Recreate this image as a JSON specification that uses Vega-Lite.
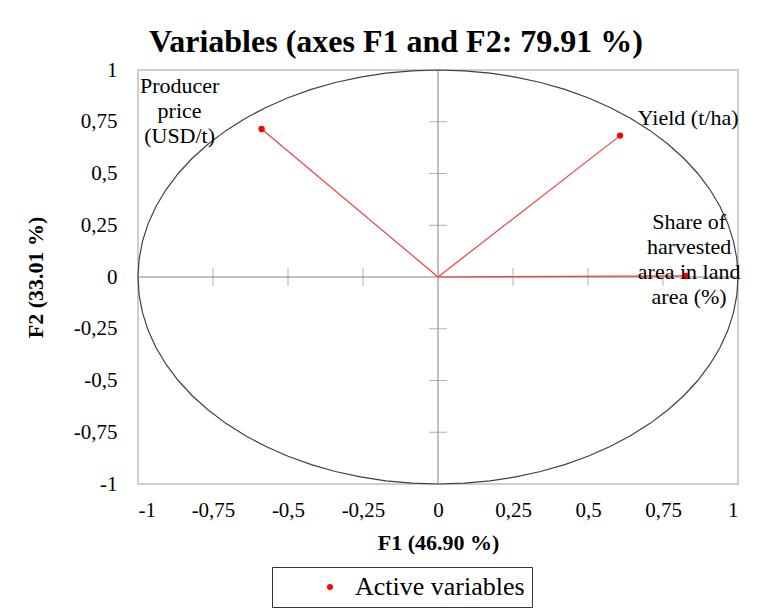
{
  "$schema": "https://vega.github.io/schema/vega-lite/v6.json",
  "width": 600,
  "height": 414,
  "autosize": {"type": "none"},
  "padding": {"left": 138, "top": 70, "right": 26, "bottom": 129},
  "background": "white",
  "title": {"text": "Variables (axes F1 and F2: 79.91 %)", "font": "Liberation Serif, Times New Roman, serif", "fontSize": 32, "fontWeight": "bold", "color": "black", "anchor": "middle", "dx": -42, "offset": 0},
  "config": {
    "view": {"stroke": "#bfbfbf", "strokeWidth": 1.5},
    "axis": {"grid": false, "domain": false, "ticks": false, "labelFont": "Liberation Serif, Times New Roman, serif", "labelFontSize": 21, "labelColor": "black", "titleFont": "Liberation Serif, Times New Roman, serif", "titleFontSize": 22, "titleFontWeight": "bold", "titleColor": "black"}
  },
  "datasets": {
    "circle": [
      {"a":0,"x":1,"y":0},{"a":5,"x":0.9962,"y":0.0872},{"a":10,"x":0.9848,"y":0.1736},{"a":15,"x":0.9659,"y":0.2588},{"a":20,"x":0.9397,"y":0.342},{"a":25,"x":0.9063,"y":0.4226},{"a":30,"x":0.866,"y":0.5},{"a":35,"x":0.8192,"y":0.5736},{"a":40,"x":0.766,"y":0.6428},{"a":45,"x":0.7071,"y":0.7071},{"a":50,"x":0.6428,"y":0.766},{"a":55,"x":0.5736,"y":0.8192},{"a":60,"x":0.5,"y":0.866},{"a":65,"x":0.4226,"y":0.9063},{"a":70,"x":0.342,"y":0.9397},{"a":75,"x":0.2588,"y":0.9659},{"a":80,"x":0.1736,"y":0.9848},{"a":85,"x":0.0872,"y":0.9962},{"a":90,"x":0,"y":1},
      {"a":95,"x":-0.0872,"y":0.9962},{"a":100,"x":-0.1736,"y":0.9848},{"a":105,"x":-0.2588,"y":0.9659},{"a":110,"x":-0.342,"y":0.9397},{"a":115,"x":-0.4226,"y":0.9063},{"a":120,"x":-0.5,"y":0.866},{"a":125,"x":-0.5736,"y":0.8192},{"a":130,"x":-0.6428,"y":0.766},{"a":135,"x":-0.7071,"y":0.7071},{"a":140,"x":-0.766,"y":0.6428},{"a":145,"x":-0.8192,"y":0.5736},{"a":150,"x":-0.866,"y":0.5},{"a":155,"x":-0.9063,"y":0.4226},{"a":160,"x":-0.9397,"y":0.342},{"a":165,"x":-0.9659,"y":0.2588},{"a":170,"x":-0.9848,"y":0.1736},{"a":175,"x":-0.9962,"y":0.0872},{"a":180,"x":-1,"y":0},
      {"a":185,"x":-0.9962,"y":-0.0872},{"a":190,"x":-0.9848,"y":-0.1736},{"a":195,"x":-0.9659,"y":-0.2588},{"a":200,"x":-0.9397,"y":-0.342},{"a":205,"x":-0.9063,"y":-0.4226},{"a":210,"x":-0.866,"y":-0.5},{"a":215,"x":-0.8192,"y":-0.5736},{"a":220,"x":-0.766,"y":-0.6428},{"a":225,"x":-0.7071,"y":-0.7071},{"a":230,"x":-0.6428,"y":-0.766},{"a":235,"x":-0.5736,"y":-0.8192},{"a":240,"x":-0.5,"y":-0.866},{"a":245,"x":-0.4226,"y":-0.9063},{"a":250,"x":-0.342,"y":-0.9397},{"a":255,"x":-0.2588,"y":-0.9659},{"a":260,"x":-0.1736,"y":-0.9848},{"a":265,"x":-0.0872,"y":-0.9962},{"a":270,"x":0,"y":-1},
      {"a":275,"x":0.0872,"y":-0.9962},{"a":280,"x":0.1736,"y":-0.9848},{"a":285,"x":0.2588,"y":-0.9659},{"a":290,"x":0.342,"y":-0.9397},{"a":295,"x":0.4226,"y":-0.9063},{"a":300,"x":0.5,"y":-0.866},{"a":305,"x":0.5736,"y":-0.8192},{"a":310,"x":0.6428,"y":-0.766},{"a":315,"x":0.7071,"y":-0.7071},{"a":320,"x":0.766,"y":-0.6428},{"a":325,"x":0.8192,"y":-0.5736},{"a":330,"x":0.866,"y":-0.5},{"a":335,"x":0.9063,"y":-0.4226},{"a":340,"x":0.9397,"y":-0.342},{"a":345,"x":0.9659,"y":-0.2588},{"a":350,"x":0.9848,"y":-0.1736},{"a":355,"x":0.9962,"y":-0.0872},{"a":360,"x":1,"y":0}
    ],
    "ticks": [{"v":-0.75},{"v":-0.5},{"v":-0.25},{"v":0.25},{"v":0.5},{"v":0.75}],
    "vars": [
      {"id":"price","label":"Producer\nprice\n(USD/t)","series":"Active variables","x":-0.588,"y":0.715},
      {"id":"yield","label":"Yield (t/ha)","series":"Active variables","x":0.607,"y":0.683},
      {"id":"share","label":"Share of\nharvested\narea in land\narea (%)","series":"Active variables","x":0.827,"y":0.005}
    ]
  },
  "layer": [
    {
      "data": {"name": "circle"},
      "mark": {"type": "line", "color": "#404040", "strokeWidth": 1.2},
      "encoding": {
        "x": {"field": "x", "type": "quantitative", "title": "F1 (46.90 %)",
              "scale": {"domain": [-1, 1], "nice": false, "zero": false},
              "axis": {"values": [-1,-0.75,-0.5,-0.25,0,0.25,0.5,0.75,1], "labelExpr": "replace(toString(datum.value), '.', ',')", "labelPadding": 15, "titlePadding": 12}},
        "y": {"field": "y", "type": "quantitative", "title": "F2 (33.01 %)",
              "scale": {"domain": [-1, 1], "nice": false, "zero": false},
              "axis": {"values": [-1,-0.75,-0.5,-0.25,0,0.25,0.5,0.75,1], "labelExpr": "replace(toString(datum.value), '.', ',')", "labelPadding": 21, "titlePadding": 26}},
        "order": {"field": "a", "type": "quantitative"}
      }
    },
    {
      "data": {"values": [{}]},
      "mark": {"type": "rule", "color": "#808080", "strokeWidth": 1},
      "encoding": {"y": {"datum": 0, "type": "quantitative"}}
    },
    {
      "data": {"values": [{}]},
      "mark": {"type": "rule", "color": "#808080", "strokeWidth": 1},
      "encoding": {"x": {"datum": 0, "type": "quantitative"}}
    },
    {
      "data": {"name": "ticks"},
      "mark": {"type": "tick", "orient": "horizontal", "size": 18, "thickness": 1, "color": "#909090"},
      "encoding": {
        "x": {"datum": 0, "type": "quantitative"},
        "y": {"field": "v", "type": "quantitative", "title": "F2 (33.01 %)"}
      }
    },
    {
      "data": {"name": "ticks"},
      "mark": {"type": "tick", "orient": "vertical", "size": 18, "thickness": 1, "color": "#909090"},
      "encoding": {
        "x": {"field": "v", "type": "quantitative", "title": "F1 (46.90 %)"},
        "y": {"datum": 0, "type": "quantitative"}
      }
    },
    {
      "data": {"name": "vars"},
      "mark": {"type": "rule", "color": "#f04040", "strokeWidth": 1.2},
      "encoding": {
        "x": {"field": "x", "type": "quantitative", "title": "F1 (46.90 %)"},
        "y": {"field": "y", "type": "quantitative", "title": "F2 (33.01 %)"},
        "x2": {"datum": 0},
        "y2": {"datum": 0}
      }
    },
    {
      "data": {"name": "vars"},
      "mark": {"type": "point", "filled": true, "size": 40, "opacity": 1},
      "encoding": {
        "x": {"field": "x", "type": "quantitative", "title": "F1 (46.90 %)"},
        "y": {"field": "y", "type": "quantitative", "title": "F2 (33.01 %)"},
        "color": {"field": "series", "type": "nominal",
                  "scale": {"domain": ["Active variables"], "range": ["#ff0000"]},
                  "legend": {"orient": "none", "legendX": 134, "legendY": 497, "title": null, "strokeColor": "#333333", "padding": 7, "labelFont": "Liberation Serif, Times New Roman, serif", "labelFontSize": 26, "labelLimit": 400, "labelColor": "black", "symbolType": "circle", "symbolSize": 36, "symbolStrokeWidth": 0, "symbolOffset": 38, "labelOffset": 12}}
      }
    },
    {
      "data": {"name": "vars"},
      "transform": [{"filter": "datum.id === 'price'"}],
      "mark": {"type": "text", "font": "Liberation Serif, Times New Roman, serif", "fontSize": 22, "color": "black", "align": "center", "baseline": "middle", "lineBreak": "\n", "lineHeight": 25, "dx": -82, "dy": -43},
      "encoding": {
        "x": {"field": "x", "type": "quantitative", "title": "F1 (46.90 %)"},
        "y": {"field": "y", "type": "quantitative", "title": "F2 (33.01 %)"},
        "text": {"field": "label"}
      }
    },
    {
      "data": {"name": "vars"},
      "transform": [{"filter": "datum.id === 'yield'"}],
      "mark": {"type": "text", "font": "Liberation Serif, Times New Roman, serif", "fontSize": 22, "color": "black", "align": "center", "baseline": "middle", "lineBreak": "\n", "lineHeight": 25, "dx": 68, "dy": -18},
      "encoding": {
        "x": {"field": "x", "type": "quantitative", "title": "F1 (46.90 %)"},
        "y": {"field": "y", "type": "quantitative", "title": "F2 (33.01 %)"},
        "text": {"field": "label"}
      }
    },
    {
      "data": {"name": "vars"},
      "transform": [{"filter": "datum.id === 'share'"}],
      "mark": {"type": "text", "font": "Liberation Serif, Times New Roman, serif", "fontSize": 22, "color": "black", "align": "center", "baseline": "middle", "lineBreak": "\n", "lineHeight": 25, "dx": 3, "dy": -54},
      "encoding": {
        "x": {"field": "x", "type": "quantitative", "title": "F1 (46.90 %)"},
        "y": {"field": "y", "type": "quantitative", "title": "F2 (33.01 %)"},
        "text": {"field": "label"}
      }
    }
  ]
}
